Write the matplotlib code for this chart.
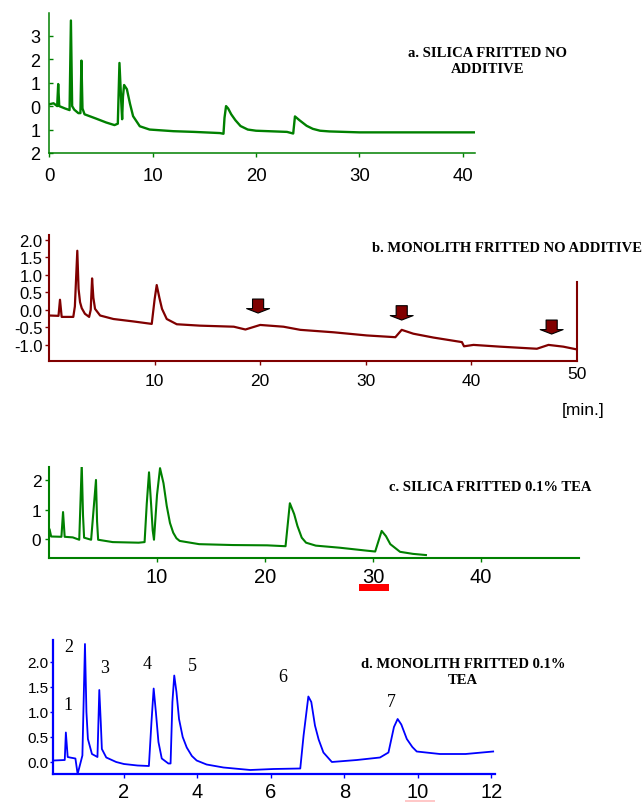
import matplotlib
matplotlib.use("Agg")
import matplotlib.pyplot as plt
from matplotlib.patches import Rectangle

W, H = 644, 803

# a. silica fritted, no additive
t_a = [0.0, 0.4, 0.75, 0.85, 0.95, 1.5, 1.95, 2.08, 2.2, 2.4,
       2.8, 3.0, 3.1, 3.2, 3.4, 4.5, 5.5, 6.3, 6.62, 6.78,
       6.95, 7.04, 7.12, 7.23, 7.5, 7.8, 8.1, 8.75, 9.7, 12.0,
       14.0, 16.5, 16.85, 16.95, 17.1, 17.3, 17.6, 18.0, 18.5, 19.2,
       20.0, 23.0, 23.6, 23.77, 24.2, 24.9, 25.5, 26.2, 27.1, 30.0,
       35.0, 41.2]
y_a = [0.08, 0.12, 0.0, 0.94, 0.0, -0.1, -0.17, 3.65, 0.0, -0.15,
       -0.3, -0.3, 1.94, -0.1, -0.35, -0.53, -0.7, -0.81, -0.75, 1.84,
       0.2, -0.56, 0.4, 0.9, 0.72, 0.1, -0.43, -0.86, -1.0, -1.07,
       -1.1, -1.15, -1.18, -0.5, 0.0, -0.1, -0.35, -0.6, -0.85, -1.0,
       -1.05, -1.1, -1.17, -0.44, -0.6, -0.84, -0.97, -1.05, -1.08, -1.12,
       -1.12, -1.12]
yticks_a = [3, 2, 1, 0, -1, -2]
ylabels_a = ["3", "2", "1", "0", "1", "2"]

# b. monolith fritted, no additive
t_b = [0.0, 0.9, 1.04, 1.2, 2.3, 2.45, 2.68, 2.8, 2.94, 3.1,
       3.4, 3.8, 3.95, 4.08, 4.2, 4.36, 4.84, 6.1, 8.0, 9.73,
       10.0, 10.2, 10.45, 10.7, 11.15, 12.1, 14.3, 17.5, 18.6, 20.0,
       22.2, 23.8, 26.96, 30.1, 32.8, 33.4, 34.5, 36.4, 39.1, 39.3,
       40.2, 42.7, 46.2, 47.3, 48.7, 50.0]
y_b = [-0.16, -0.17, 0.29, -0.2, -0.2, 0.1, 1.69, 0.6, 0.22, 0.05,
       -0.11, -0.2, 0.0, 0.9, 0.35, 0.03, -0.16, -0.26, -0.33, -0.4,
       0.3, 0.71, 0.35, 0.03, -0.26, -0.41, -0.45, -0.48, -0.56, -0.43,
       -0.48, -0.57, -0.64, -0.73, -0.78, -0.57, -0.68, -0.79, -0.92, -1.04,
       -1.0, -1.05, -1.11, -1.0, -1.05, -1.13]
arrow_t_b = [19.8, 33.4, 47.6]
arrow_top_b = [0.31, 0.12, -0.29]
arrow_tip_b = [-0.09, -0.29, -0.69]

# c. silica fritted, 0.1% TEA
t_c = [0.0, 0.05, 0.2, 1.15, 1.3, 1.45, 2.2, 2.8, 3.03, 3.15,
       3.25, 3.9, 4.35, 4.45, 4.55, 5.9, 8.3, 8.85, 9.05, 9.26,
       9.45, 9.6, 9.72, 10.0, 10.28, 10.6, 10.9, 11.2, 11.5, 11.8,
       12.1, 13.9, 17.0, 20.2, 21.9, 22.3, 22.7, 23.0, 23.4, 23.8,
       24.7, 26.9, 29.4, 30.2, 30.8, 31.2, 31.6, 32.5, 33.7, 34.9]
y_c = [0.09, 0.34, 0.09, 0.08, 0.92, 0.08, 0.06, -0.02, 2.54, 0.8,
       0.05, -0.02, 2.01, 0.6, -0.02, -0.1, -0.12, -0.1, 1.2, 2.27,
       1.2, 0.3, -0.02, 1.5, 2.41, 1.9, 1.13, 0.55, 0.22, 0.03,
       -0.06, -0.17, -0.2, -0.21, -0.24, 1.22, 0.85, 0.45, 0.05, -0.12,
       -0.22, -0.29, -0.39, -0.42, 0.28, 0.1, -0.17, -0.43, -0.5, -0.54]

# d. monolith fritted, 0.1% TEA
t_d = [0.09, 0.39, 0.42, 0.47, 0.53, 0.68, 0.74, 0.8, 0.87, 0.94,
       0.98, 1.02, 1.13, 1.28, 1.33, 1.37, 1.4, 1.52, 1.79, 2.0,
       2.37, 2.68, 2.75, 2.81, 2.87, 2.94, 3.03, 3.21, 3.27, 3.32,
       3.37, 3.43, 3.5, 3.6, 3.71, 3.85, 3.98, 4.25, 4.71, 5.44,
       6.07, 6.8, 6.89, 7.02, 7.1, 7.2, 7.3, 7.43, 7.66, 8.34,
       8.97, 9.2, 9.35, 9.45, 9.55, 9.7, 9.85, 9.97, 10.6, 11.3,
       12.05]
y_d = [0.03, 0.04, 0.59, 0.1, 0.09, 0.07, -0.24, -0.07, 0.13, 2.36,
       1.0, 0.46, 0.16, 0.1, 1.44, 0.8, 0.26, 0.09, 0.0, -0.04,
       -0.07, -0.08, 0.8, 1.47, 1.0, 0.4, 0.07, -0.03, -0.03, 1.2,
       1.73, 1.4, 0.86, 0.5, 0.29, 0.12, 0.03, -0.05, -0.11, -0.16,
       -0.14, -0.13, 0.53, 1.31, 1.2, 0.73, 0.45, 0.19, 0.0, 0.04,
       0.09, 0.19, 0.7, 0.86, 0.75, 0.46, 0.3, 0.21, 0.16, 0.16,
       0.21]
peak_ids_d = ["1", "2", "3", "4", "5", "6", "7"]
peak_t_d = [0.47, 0.5, 1.48, 2.63, 3.85, 6.33, 9.27]
peak_y_d = [1.14, 2.3, 1.88, 1.96, 1.92, 1.7, 1.2]


def box(l, t, r, b):
    return [l / W, 1 - b / H, (r - l) / W, (b - t) / H]


def fx(x, y):
    return x / W, 1 - y / H


def style(ax, color, lw):
    for s in ["top", "right"]:
        ax.spines[s].set_visible(False)
    for s in ["left", "bottom"]:
        ax.spines[s].set_color(color)
        ax.spines[s].set_linewidth(lw)
    ax.tick_params(color=color, labelcolor="black", width=1)


plt.rcParams["font.family"] = ["Liberation Sans", "DejaVu Sans"]
fig = plt.figure(figsize=(W / 100, H / 100), dpi=100)
serif = dict(family="Liberation Serif", fontweight="bold", fontsize=10.5,
             ha="center", va="center")

# panel a
green = "#008000"
ax = fig.add_axes(box(48.7, 14, 475, 154))
ax.plot(t_a, y_a, color=green, lw=1.7)
ax.set_xlim(-0.07, 41.2)
ax.set_ylim(-2.0, 3.97)
ax.set_xticks([0, 10, 20, 30, 40])
ax.set_yticks(yticks_a)
ax.set_yticklabels(ylabels_a)
style(ax, green, 1.1)
ax.tick_params(axis="x", direction="out", length=3, pad=7, labelsize=13.4)
ax.tick_params(axis="y", direction="in", length=3, pad=6, labelsize=13)
fig.text(*fx(488, 61.5), "a. SILICA FRITTED NO\nADDITIVE", linespacing=1.25, **serif)

# panel b
maroon = "#800000"
ax = fig.add_axes(box(49, 236, 577, 362))
ax.plot(t_b, y_b, color=maroon, lw=1.6)
ax.set_xlim(0, 50)
ax.set_ylim(-1.46, 2.14)
ax.set_xticks([10, 20, 30, 40])
ax.set_yticks([2.0, 1.5, 1.0, 0.5, 0.0, -0.5, -1.0])
ax.set_yticklabels(["2.0", "1.5", "1.0", "0.5", "0.0", "-0.5", "-1.0"])
style(ax, maroon, 1.5)
ax.spines["right"].set_visible(True)
ax.spines["right"].set_color(maroon)
ax.spines["right"].set_linewidth(1.5)
ax.spines["right"].set_bounds(-1.46, 0.8)
ax.tick_params(axis="x", direction="out", length=3, pad=5.5, labelsize=12.5)
ax.tick_params(axis="y", direction="out", length=3, pad=1.5, labelsize=12)
for t, top, tip in zip(arrow_t_b, arrow_top_b, arrow_tip_b):
    ax.annotate("", xy=(t, tip), xytext=(t, top),
                arrowprops=dict(arrowstyle="simple,head_length=3.2,head_width=16.5,tail_width=8",
                                mutation_scale=1, fc=maroon, ec="black", lw=0.8,
                                shrinkA=0, shrinkB=0))
fig.text(*fx(577, 375), "50", fontsize=12.5, ha="center", va="center")
fig.text(*fx(583, 410), "[min.]", fontsize=12.5, ha="center", va="center")
fig.text(*fx(507.5, 248), "b. MONOLITH FRITTED NO ADDITIVE", **serif)

# panel c
ax = fig.add_axes(box(49, 468, 579, 559))
ax.plot(t_c, y_c, color=green, lw=1.5)
ax.set_xlim(0, 49.07)
ax.set_ylim(-0.64, 2.45)
ax.set_xticks([10, 20, 30, 40])
ax.set_yticks([2, 1, 0])
style(ax, green, 1.5)
ax.tick_params(axis="x", direction="out", length=3, pad=3.5, labelsize=14.5)
ax.tick_params(axis="y", direction="out", length=3, pad=2.5, labelsize=12.4)
fig.text(*fx(490, 488), "c. SILICA FRITTED 0.1% TEA", **serif)
fig.add_artist(Rectangle(fx(359, 592), 30 / W, 7 / H, transform=fig.transFigure,
                         color="#ff0000", lw=0))

# panel d
blue = "#0000ff"
ax = fig.add_axes(box(53, 641, 495, 775))
ax.plot(t_d, y_d, color=blue, lw=1.3)
ax.set_xlim(0.07, 12.1)
ax.set_ylim(-0.24, 2.44)
ax.set_xticks([2, 4, 6, 8, 10, 12])
ax.set_yticks([2.0, 1.5, 1.0, 0.5, 0.0])
ax.set_yticklabels(["2.0", "1.5", "1.0", "0.5", "0.0"])
style(ax, blue, 1.6)
ax.tick_params(axis="x", direction="out", length=3, pad=2.8, labelsize=14.5)
ax.tick_params(axis="y", direction="out", length=2, pad=1, labelsize=11)
for lab, t, v in zip(peak_ids_d, peak_t_d, peak_y_d):
    ax.text(t, v, lab, family="Liberation Serif", fontsize=13,
            ha="center", va="center")
fig.text(*fx(463, 672.5), "d. MONOLITH FRITTED 0.1%\nTEA", linespacing=1.25, **serif)
fig.add_artist(Rectangle(fx(405, 803), 30 / W, 2 / H, transform=fig.transFigure,
                         color="#ffc8c8", lw=0))

fig.savefig("out.png", dpi=100)
